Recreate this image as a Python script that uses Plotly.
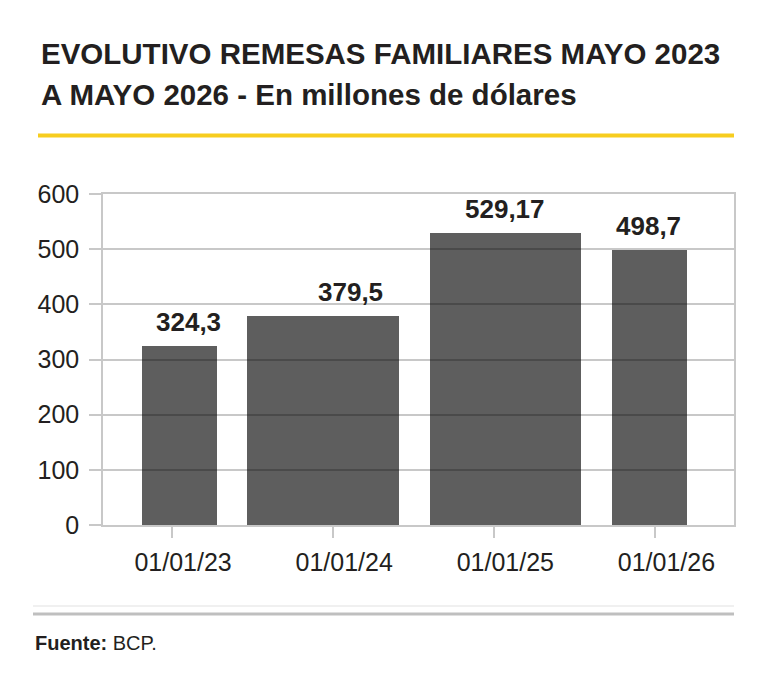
import plotly.graph_objects as go

# ---- data ----
categories = ["01/01/23", "01/01/24", "01/01/25", "01/01/26"]
values = [324.3, 379.5, 529.17, 498.7]
value_labels = ["324,3", "379,5", "529,17", "498,7"]
y_ticks = [0, 100, 200, 300, 400, 500, 600]

# ---- style / layout ----
bar_widths = [0.466, 0.944, 0.937, 0.466]
bar_offsets = [-0.187, -0.535, -0.399, -0.269]
label_xshift = [16, 17, 11, -7]

W, H = 770, 677
ML, MR, MT, MB = 103, 36, 194, 152
PW, PH = W - ML - MR, H - MT - MB

FONT = "Liberation Sans, Arial, sans-serif"
DARK = "#231f20"
GRID = "#c8c8c8"


def px_x(X):
    return (X - ML) / PW


def px_y(Y):
    return (H - MB - Y) / PH


fig = go.Figure()
fig.add_trace(go.Bar(
    x=categories, y=values,
    width=bar_widths, offset=bar_offsets,
    marker=dict(color="rgba(0,0,0,0.63)", line=dict(width=0)),
    hoverinfo="skip",
))

annotations = []
for c, v, t, dx in zip(categories, values, value_labels, label_xshift):
    annotations.append(dict(
        x=c, y=v, xref="x", yref="y", text=t, showarrow=False,
        xanchor="center", yanchor="bottom", xshift=dx, yshift=7,
        font=dict(family=FONT, size=26, color=DARK, weight="bold"),
    ))

annotations += [
    dict(x=px_x(39), y=px_y(53), xref="paper", yref="paper",
         text="<b>EVOLUTIVO REMESAS FAMILIARES MAYO 2023</b>", showarrow=False,
         xanchor="left", yanchor="middle",
         font=dict(family=FONT, size=29.5, color=DARK)),
    dict(x=px_x(39), y=px_y(95), xref="paper", yref="paper",
         text="<b>A MAYO 2026 - En millones de dólares</b>", showarrow=False,
         xanchor="left", yanchor="middle",
         font=dict(family=FONT, size=29.5, color=DARK)),
    dict(x=px_x(33), y=px_y(643), xref="paper", yref="paper",
         text="<b>Fuente:</b> BCP.", showarrow=False,
         xanchor="left", yanchor="middle",
         font=dict(family=FONT, size=20, color=DARK)),
]

shapes = [
    dict(type="line", xref="paper", yref="paper",
         x0=px_x(38), x1=px_x(734), y0=px_y(135.5), y1=px_y(135.5),
         line=dict(color="#f7cd1f", width=4)),
    dict(type="line", xref="paper", yref="paper",
         x0=px_x(33), x1=px_x(734), y0=px_y(606), y1=px_y(606),
         line=dict(color="#ebebeb", width=1.5)),
    dict(type="line", xref="paper", yref="paper",
         x0=px_x(33), x1=px_x(734), y0=px_y(614), y1=px_y(614),
         line=dict(color="#bfbfbf", width=3)),
]

fig.update_layout(
    width=W, height=H,
    margin=dict(l=ML, r=MR, t=MT, b=MB, pad=0),
    paper_bgcolor="white", plot_bgcolor="white",
    showlegend=False,
    bargap=0,
    annotations=annotations,
    shapes=shapes,
    xaxis=dict(
        type="category", categoryorder="array", categoryarray=categories,
        range=[-0.429, 3.488],
        showgrid=False, zeroline=False,
        showline=True, linecolor=GRID, linewidth=1.5, mirror=True,
        ticks="outside", ticklen=11, tickcolor=GRID, tickwidth=1.5,
        ticklabelshift=11, ticklabelstandoff=3,
        tickfont=dict(family=FONT, size=25, color=DARK),
        fixedrange=True,
    ),
    yaxis=dict(
        range=[0, 600], tickvals=y_ticks,
        showgrid=True, gridcolor=GRID, gridwidth=1.5,
        zeroline=False,
        showline=True, linecolor=GRID, linewidth=1.5, mirror=True,
        ticks="outside", ticklen=12, tickcolor=GRID, tickwidth=1.5,
        ticklabelstandoff=5,
        tickfont=dict(family=FONT, size=25, color=DARK),
        fixedrange=True,
    ),
)

fig.write_html("out.html", config={"displayModeBar": False})
